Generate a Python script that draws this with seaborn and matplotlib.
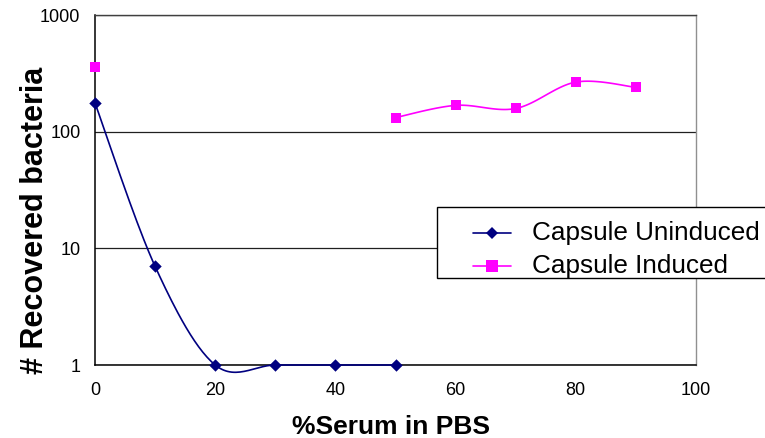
import numpy as np
import matplotlib
matplotlib.use("Agg")
import matplotlib.pyplot as plt
import seaborn as sns
from matplotlib.lines import Line2D
from matplotlib.patches import Rectangle
from matplotlib.ticker import FixedLocator, FixedFormatter

# values
serum = [0, 10, 20, 30, 40, 50, 60, 70, 80, 90]
uninduced = [176, 7, 1, 1, 1, 1, np.nan, np.nan, np.nan, np.nan]
induced = [358, np.nan, np.nan, np.nan, np.nan, 132, 168, 158, 266, 240]
series_names = ["Capsule Uninduced", "Capsule Induced"]
x_ticks = [0, 20, 40, 60, 80, 100]
y_ticks = [1, 10, 100, 1000]

navy = "#000080"
magenta = "#FF00FF"

sns.set_style("white")
plt.rcParams["font.family"] = ["Liberation Sans", "DejaVu Sans"]
plt.rcParams.update({"text.color": "black", "axes.labelcolor": "black",
                     "xtick.color": "black", "ytick.color": "black"})

W, H = 765, 438


def smooth(xs, ys, n=30):
    # Excel-like smoothed line: Catmull-Rom bezier in (x, log y) space
    px = np.array(xs, float)
    py = np.log10(np.array(ys, float))
    outx, outy = [], []
    for i in range(len(px) - 1):
        p0 = (px[max(i - 1, 0)], py[max(i - 1, 0)])
        p1 = (px[i], py[i])
        p2 = (px[i + 1], py[i + 1])
        p3 = (px[min(i + 2, len(px) - 1)], py[min(i + 2, len(px) - 1)])
        c1 = (p1[0] + (p2[0] - p0[0]) / 6, p1[1] + (p2[1] - p0[1]) / 6)
        c2 = (p2[0] - (p3[0] - p1[0]) / 6, p2[1] - (p3[1] - p1[1]) / 6)
        t = np.linspace(0, 1, n)
        bx = (1 - t) ** 3 * p1[0] + 3 * (1 - t) ** 2 * t * c1[0] + 3 * (1 - t) * t ** 2 * c2[0] + t ** 3 * p2[0]
        by = (1 - t) ** 3 * p1[1] + 3 * (1 - t) ** 2 * t * c1[1] + 3 * (1 - t) * t ** 2 * c2[1] + t ** 3 * p2[1]
        outx.extend(bx)
        outy.extend(by)
    return np.array(outx), 10 ** np.array(outy)


def runs(xs, ys):
    # consecutive non-missing stretches of a series
    seg = []
    for x, y in zip(xs, ys):
        if np.isnan(y):
            if seg:
                yield seg
            seg = []
        else:
            seg.append((x, y))
    if seg:
        yield seg


fig = plt.figure(figsize=(W / 100, H / 100), dpi=100)
ax = fig.add_axes([95 / W, 1 - 365 / H, 601 / W, 350 / H])
ax.set_yscale("log")

for ys, col in [(uninduced, navy), (induced, magenta)]:
    for seg in runs(serum, ys):
        if len(seg) > 1:
            sx, sy = smooth([s[0] for s in seg], [s[1] for s in seg])
            ax.plot(sx, sy, color=col, lw=1.2, clip_on=False, zorder=3)

sns.scatterplot(x=serum, y=uninduced, marker="D", s=40, color=navy,
                edgecolor=navy, linewidth=0, ax=ax, zorder=4, clip_on=False)
sns.scatterplot(x=serum, y=induced, marker="s", s=60, color=magenta,
                edgecolor=magenta, linewidth=0, ax=ax, zorder=4, clip_on=False)

ax.set_xlim(0, 100)
ax.set_ylim(1, 1000)
ax.xaxis.set_major_locator(FixedLocator(x_ticks))
ax.yaxis.set_major_locator(FixedLocator(y_ticks))
ax.yaxis.set_major_formatter(FixedFormatter([str(v) for v in y_ticks]))
ax.yaxis.set_minor_locator(FixedLocator([]))
ax.tick_params(axis="both", which="major", direction="out", length=4.5,
               width=1, color="black", labelcolor="black")
ax.tick_params(axis="y", labelsize=13, pad=6)
ax.tick_params(axis="x", labelsize=13, pad=7.5)
ax.grid(axis="y", color="#202020", lw=0.9)
ax.grid(axis="x", visible=False)

for side in ["left", "bottom"]:
    ax.spines[side].set_color("black")
    ax.spines[side].set_linewidth(1.1)
ax.spines["top"].set_color("#404040")
ax.spines["right"].set_color("#909090")
for side in ["top", "right"]:
    ax.spines[side].set_linewidth(1.0)

fig.text(391 / W, 1 - 434 / H, "%Serum in PBS", fontsize=19,
         fontweight="bold", ha="center", va="baseline", color="black")
fig.text(35 / W, 1 - 220 / H, "# Recovered bacteria", fontsize=22,
         fontweight="bold", ha="center", va="center", rotation=90, color="black")

# legend box, cut off by the right edge as in the original
fig.patches.append(Rectangle((437 / W, 1 - 278 / H), 400 / W, 71 / H,
                             transform=fig.transFigure, facecolor="white",
                             edgecolor="black", lw=1.0, zorder=5))
for i, (name, col, mk, ms) in enumerate(zip(series_names, [navy, magenta],
                                            ["D", "s"], [6.5, 8])):
    yb = [240, 272.5][i]
    ymid = 1 - (yb - 7) / H
    fig.lines.append(Line2D([473 / W, 511 / W], [ymid, ymid], color=col, lw=1.2,
                            transform=fig.transFigure, zorder=6))
    fig.lines.append(Line2D([492 / W], [ymid], color=col, marker=mk, markersize=ms,
                            markeredgewidth=0, transform=fig.transFigure, zorder=6))
    fig.text(532 / W, 1 - yb / H, name, fontsize=18.8, ha="left",
             va="baseline", zorder=7, color="black")

fig.savefig("out.png", dpi=100)
